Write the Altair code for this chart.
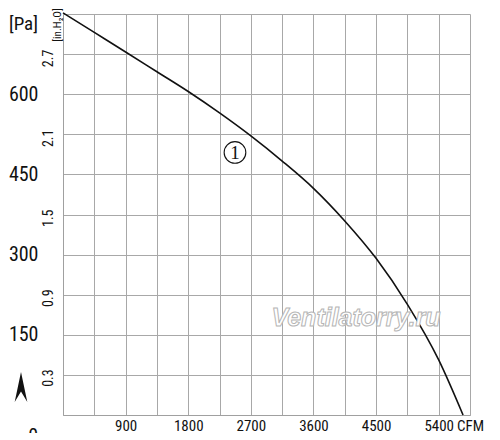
import altair as alt
import pandas as pd

# Fan curve ① : airflow [CFM] vs static pressure [Pa]
cfm = [0, 450, 900, 1350, 1800, 2250, 2700, 3150, 3600, 4050, 4500, 4950, 5400, 5750]
pa = [752, 715.5, 679, 642, 605, 565, 522, 475, 424, 363, 293, 207, 103, 0]

# secondary pressure axis labels (in.H2O)
inh2o = [0.3, 0.9, 1.5, 2.1, 2.7]
PA_PER_INH2O = 249.089

x_ticks = list(range(0, 5851, 450))
y_ticks = list(range(0, 751, 75))

# annotation positions (data coordinates)
curve_label = {"cfm": 2472, "pa": 491, "text": "1"}
watermark = {"cfm": 4211, "pa": 181, "text": "Ventilatorry.ru"}

FONT = "Liberation Sans Narrow, Roboto Condensed, DejaVu Sans Condensed, Arial Narrow, sans-serif"

xs = alt.Scale(domain=[0, 5850], nice=False, zero=False)
ys = alt.Scale(domain=[0, 750], nice=False, zero=False)

x_axis = alt.Axis(
    title=None, values=x_ticks, format="d",
    labelExpr="datum.value == 5850 ? 'CFM' : ((datum.value % 900 == 0 && datum.value > 0) ? datum.label : '')",
    grid=True, gridColor="#a8a8a8", gridWidth=1, ticks=False,
    domainColor="#a0a0a0", labelFont=FONT, labelFontSize=15, labelColor="#111",
    labelPadding=3, labelFlush=False, labelOverlap=False, labelBound=False,
)
y_axis = alt.Axis(
    title=None, values=y_ticks, format="d",
    labelExpr="(datum.value % 150 == 0 && datum.value > 0 && datum.value < 750) ? datum.label : ''",
    grid=True, gridColor="#a8a8a8", gridWidth=1, ticks=False,
    domainColor="#a0a0a0", labelFont=FONT, labelFontSize=20, labelColor="#111",
    labelPadding=25, labelFlush=False, labelOverlap=False, labelBound=False,
    labelBaseline="middle",
)

def X():
    return alt.X("cfm:Q", scale=xs, axis=x_axis)

def Y():
    return alt.Y("pa:Q", scale=ys, axis=y_axis)

curve_df = pd.DataFrame({"cfm": cfm, "pa": pa})
curve = alt.Chart(curve_df).mark_line(
    color="#111", strokeWidth=1.6, interpolate="monotone", clip=False
).encode(x=X(), y=Y())

inh_df = pd.DataFrame({
    "cfm": [0] * len(inh2o),
    "pa": [v * PA_PER_INH2O for v in inh2o],
    "label": [f"{v:.1f}" for v in inh2o],
})
inh_labels = alt.Chart(inh_df).mark_text(
    font=FONT, fontSize=14, angle=270, align="center", baseline="middle", color="#111", dx=-3
).encode(x=alt.value(-14), y=Y(), text="label:N")

unit_inh = alt.Chart(pd.DataFrame({"cfm": [0], "pa": [750], "label": ["[in.H₂O]"]})).mark_text(
    font=FONT, fontSize=11, angle=270, align="center", baseline="middle", color="#111"
).encode(x=alt.value(-5), y=alt.value(11), text="label:N")

pa_unit = alt.Chart(pd.DataFrame({"cfm": [0], "pa": [750], "label": ["[Pa]"]})).mark_text(
    font=FONT, fontSize=19, align="right", baseline="middle", color="#111", dy=10
).encode(x=alt.value(-25), y=Y(), text="label:N")

pa_zero = alt.Chart(pd.DataFrame({"cfm": [0], "pa": [0], "label": ["0"]})).mark_text(
    font=FONT, fontSize=20, align="right", baseline="middle", color="#111", dy=22
).encode(x=alt.value(-25), y=Y(), text="label:N")

arrow = alt.Chart(pd.DataFrame({"cfm": [0], "pa": [0]})).mark_point(
    shape="M0,-1 L0.42,1 L0,0.3 L-0.42,1 Z", filled=True, color="#111", opacity=1, size=900
).encode(x=alt.value(-42), y=alt.value(373))

circ_df = pd.DataFrame([curve_label])
circle = alt.Chart(circ_df).mark_point(
    shape="circle", size=470, filled=False, stroke="#111", strokeWidth=1.1, opacity=1
).encode(x=X(), y=Y())
circle_txt = alt.Chart(circ_df).mark_text(
    font="Liberation Serif, DejaVu Serif, serif", fontSize=19, align="center",
    baseline="middle", color="#111", dy=1
).encode(x=X(), y=Y(), text="text:N")

wm_df = pd.DataFrame([watermark])
wm = alt.Chart(wm_df).mark_text(
    font="Liberation Sans, Arial, sans-serif", fontSize=25, fontStyle="italic", fontWeight="bold",
    align="center", baseline="middle", fill="white", stroke="#b5b5b5", strokeWidth=1
).encode(x=X(), y=Y(), text="text:N")

chart = alt.layer(
    curve, wm, inh_labels, unit_inh, pa_unit, pa_zero, arrow, circle, circle_txt
).properties(
    width=407, height=401,
    autosize=alt.AutoSizeParams(type="none"),
    padding={"left": 55, "top": 6, "right": 22, "bottom": 18},
    background="white",
).configure_view(stroke=None)

chart.save("out.html", embed_options={"renderer": "svg", "actions": False})
